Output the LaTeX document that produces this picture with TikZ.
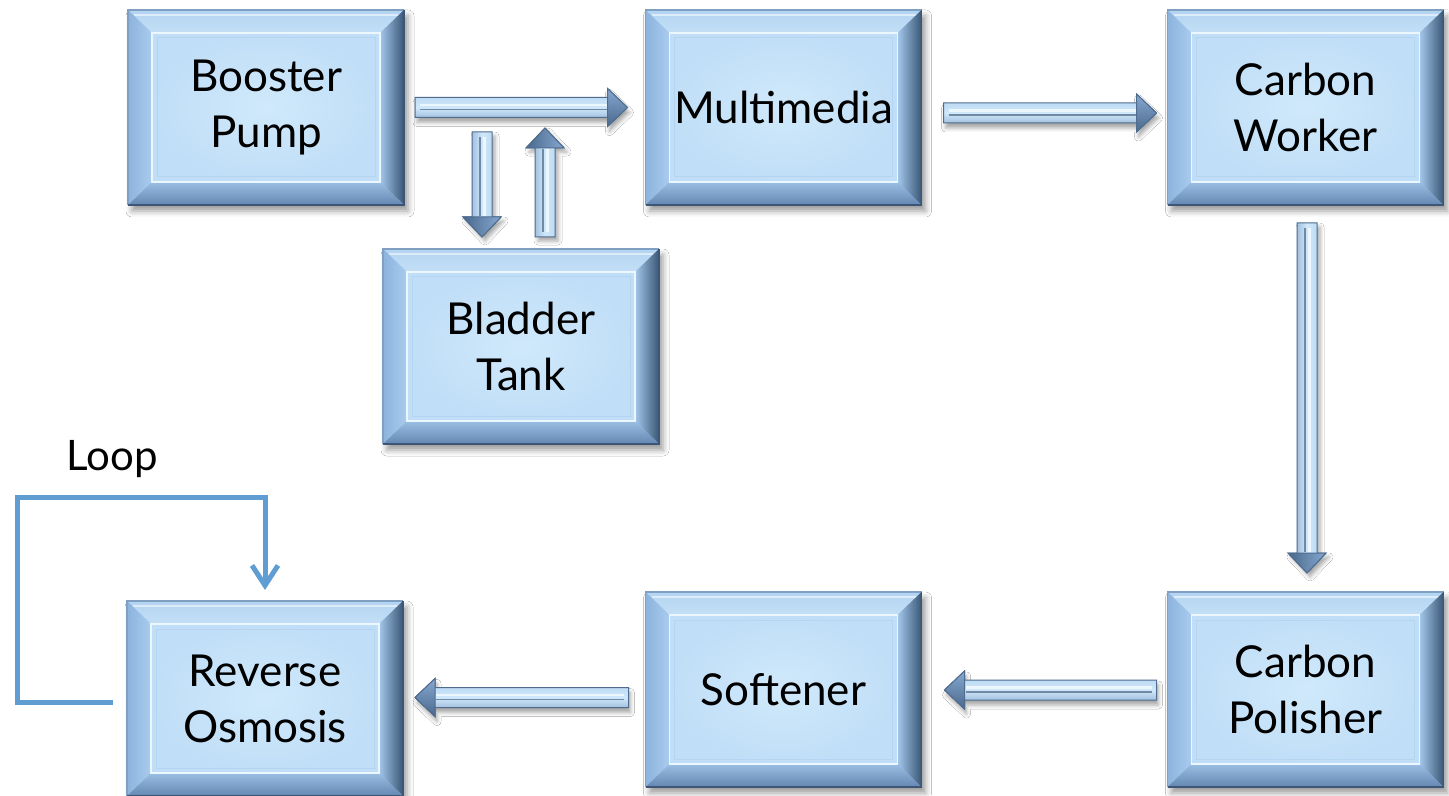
\documentclass[tikz,border=0pt]{standalone}
\usepackage{fontspec}
\setmainfont{Lato}
\usetikzlibrary{calc,shadows.blur,arrows.meta}
\definecolor{bvtopo}{HTML}{B3D4F1}
\definecolor{bvtopi}{HTML}{C3DFF6}
\definecolor{bvlefto}{HTML}{8DB3DD}
\definecolor{bvlefti}{HTML}{A9CCEE}
\definecolor{bvrighti}{HTML}{A3C7EB}
\definecolor{bvrightm}{HTML}{86ABD4}
\definecolor{bvrighto}{HTML}{3A5675}
\definecolor{bvboti}{HTML}{9ABEE3}
\definecolor{bvboto}{HTML}{6387B1}
\definecolor{face}{HTML}{C0DEF7}
\definecolor{facehi}{HTML}{D0E9FB}
\definecolor{edgec}{HTML}{3E5675}
\definecolor{edgelt}{HTML}{7F9FC3}
\definecolor{loopc}{HTML}{5F9DD3}
\definecolor{arrtop}{HTML}{ADD0EE}
\definecolor{arrmid}{HTML}{D0E8FA}
\definecolor{arrbot}{HTML}{7A9DC6}
\definecolor{arredge}{HTML}{4F6C8F}
\definecolor{headtop}{HTML}{86A9D0}
\definecolor{headbot}{HTML}{4A688C}
\tikzset{
  boxframe/.style={minimum width=138pt, minimum height=97.5pt, inner sep=0pt, outer sep=0pt,
    fill=bvlefti, draw=none,
    blur shadow={shadow xshift=2pt, shadow yshift=-3pt, shadow blur radius=3pt, shadow opacity=40}},
  boxtext/.style={align=center, font=\fontsize{22}{28}\selectfont, text=black, inner sep=0pt},
  harr/.style={top color=arrtop, bottom color=arrbot, middle color=arrmid, draw=arredge, line width=0.5pt,
    blur shadow={shadow xshift=1pt, shadow yshift=-2.5pt, shadow blur radius=2pt, shadow opacity=35}},
  varr/.style={left color=arrbot, right color=arrtop, middle color=arrmid, draw=arredge, line width=0.5pt,
    blur shadow={shadow xshift=1.5pt, shadow yshift=-2pt, shadow blur radius=2pt, shadow opacity=35}},
  hhead/.style={top color=headtop, bottom color=headbot, draw=arredge, line width=0.5pt},
  vhead/.style={left color=headbot, right color=headtop, draw=arredge, line width=0.5pt},
  loopline/.style={draw=loopc, line width=2.5pt, -{Straight Barb[length=10pt,width=13pt]}},
  looptext/.style={font=\fontsize{21}{25}\selectfont, text=black, inner sep=0pt}
}
\newcommand{\procbox}[3]{%
  \node[boxframe] (#1) at (#2) {};
  \path[top color=bvtopo, bottom color=bvtopi] (#1.north west) -- (#1.north east) -- ($(#1.north east)+(-12pt,-11.5pt)$) -- ($(#1.north west)+(12pt,-11.5pt)$) -- cycle;
  \draw[white!55!bvtopo, line width=1.2pt] ($(#1.north west)+(3pt,-2.5pt)$) -- ($(#1.north east)+(-3pt,-2.5pt)$);
  \path[left color=bvlefto, right color=bvlefti] (#1.north west) -- ($(#1.north west)+(12pt,-11.5pt)$) -- ($(#1.south west)+(12pt,11.5pt)$) -- (#1.south west) -- cycle;
  \path[left color=bvrighti, middle color=bvrightm, right color=bvrighto] (#1.north east) -- ($(#1.north east)+(-12pt,-11.5pt)$) -- ($(#1.south east)+(-12pt,11.5pt)$) -- (#1.south east) -- cycle;
  \path[top color=bvboti, bottom color=bvboto] (#1.south west) -- ($(#1.south west)+(12pt,11.5pt)$) -- ($(#1.south east)+(-12pt,11.5pt)$) -- (#1.south east) -- cycle;
  \draw[edgelt, line width=0.6pt] (#1.south west) -- (#1.north west) -- (#1.north east);
  \draw[edgec, line width=0.7pt] (#1.north east) -- (#1.south east) -- (#1.south west);
  \path[inner color=facehi, outer color=face, draw=white!60!facehi, line width=0.9pt] ($(#1.north west)+(12pt,-11.5pt)$) rectangle ($(#1.south east)+(-12pt,11.5pt)$);
  \draw[face!80!bvrightm, line width=0.5pt] ($(#1.north west)+(14.5pt,-14pt)$) rectangle ($(#1.south east)+(-14.5pt,14pt)$);
  \node[boxtext] (#1-t) at (#1.center) {#3};
}
\newcommand{\harrow}[2]{%
  \path[harr] let \p1=(#1), \p2=(#2), \n1={sign(\x2-\x1)} in
    ({\x1},{\y1+5pt}) -- ({\x2-(\n1)*10pt},{\y1+5pt}) -- ({\x2-(\n1)*10pt},{\y1+9.5pt}) -- ({\x2},{\y1})
    -- ({\x2-(\n1)*10pt},{\y1-9.5pt}) -- ({\x2-(\n1)*10pt},{\y1-5pt}) -- ({\x1},{\y1-5pt}) -- cycle;
  \path[hhead] let \p1=(#1), \p2=(#2), \n1={sign(\x2-\x1)} in
    ({\x2-(\n1)*10pt},{\y1+9.5pt}) -- ({\x2},{\y1}) -- ({\x2-(\n1)*10pt},{\y1-9.5pt}) -- cycle;
  \draw[white!60!arrmid, line width=1.2pt] let \p1=(#1), \p2=(#2), \n1={sign(\x2-\x1)} in
    ({\x1+(\n1)*2.5pt},{\y1+1.2pt}) -- ({\x2-(\n1)*10.5pt},{\y1+1.2pt});
  \draw[arredge!80, line width=0.6pt] let \p1=(#1), \p2=(#2), \n1={sign(\x2-\x1)} in
    ({\x1+(\n1)*2.5pt},{\y1-1pt}) -- ({\x2-(\n1)*10.5pt},{\y1-1pt});
}
\newcommand{\varrow}[2]{%
  \path[varr] let \p1=(#1), \p2=(#2), \n1={sign(\y2-\y1)} in
    ({\x1+5pt},{\y1}) -- ({\x1+5pt},{\y2-(\n1)*10pt}) -- ({\x1+9.5pt},{\y2-(\n1)*10pt}) -- ({\x1},{\y2})
    -- ({\x1-9.5pt},{\y2-(\n1)*10pt}) -- ({\x1-5pt},{\y2-(\n1)*10pt}) -- ({\x1-5pt},{\y1}) -- cycle;
  \path[vhead] let \p1=(#1), \p2=(#2), \n1={sign(\y2-\y1)} in
    ({\x1+9.5pt},{\y2-(\n1)*10pt}) -- ({\x1},{\y2}) -- ({\x1-9.5pt},{\y2-(\n1)*10pt}) -- cycle;
  \draw[white!60!arrmid, line width=1.2pt] let \p1=(#1), \p2=(#2), \n1={sign(\y2-\y1)} in
    ({\x1+1.2pt},{\y1+(\n1)*2.5pt}) -- ({\x1+1.2pt},{\y2-(\n1)*10.5pt});
  \draw[arredge!80, line width=0.6pt] let \p1=(#1), \p2=(#2), \n1={sign(\y2-\y1)} in
    ({\x1-1pt},{\y1+(\n1)*2.5pt}) -- ({\x1-1pt},{\y2-(\n1)*10.5pt});
}
\begin{document}
\begin{tikzpicture}[x=0.5pt,y=-0.5pt]
\useasboundingbox[fill=white] (0,0) rectangle (1449,796);
% boxes
\procbox{bp}{266,107.5}{Booster\\Pump}
\procbox{mm}{783.5,107.5}{Multimedia}
\procbox{cw}{1305.5,107.5}{Carbon\\Worker}
\procbox{bt}{521,346.5}{Bladder\\Tank}
\procbox{ro}{265,698.5}{Reverse\\Osmosis}
\procbox{sf}{783.5,689.5}{Softener}
\procbox{cp}{1305.5,689.5}{Carbon\\Polisher}
% block arrows
\coordinate (a1s) at ($(bp.east)+(11,0)$);
\coordinate (a1e) at ($(mm.west)+(-18,0)$);
\harrow{a1s}{a1e}
\coordinate (a2s) at ($(mm.east)+(22,5.5)$);
\coordinate (a2e) at ($(cw.west)+(-11,5.5)$);
\harrow{a2s}{a2e}
\coordinate (a3s) at ($(cw.south)+(1.5,18)$);
\coordinate (a3e) at ($(cp.north)+(1.5,-19)$);
\varrow{a3s}{a3e}
\coordinate (a4s) at ($(cp.west)+(-11,0.5)$);
\coordinate (a4e) at ($(sf.east)+(23,0.5)$);
\harrow{a4s}{a4e}
\coordinate (a5s) at ($(sf.west)+(-17,8)$);
\coordinate (a5e) at ($(ro.east)+(12,-1)$);
\harrow{a5s}{a5e}
\coordinate (a6s) at ($(bp.east)+(78,24.5)$);
\coordinate (a6e) at ($(bt.north)+(-39,-12)$);
\varrow{a6s}{a6e}
\coordinate (a7s) at ($(bt.north)+(24,-12)$);
\coordinate (a7e) at ($(bp.east)+(141,20.5)$);
\varrow{a7s}{a7e}
% loop
\node[looptext, anchor=base] (lp) at (112,470) {Loop};
\coordinate (ls) at ($(ro.west)+(-14,3.5)$);
\coordinate (lc) at ($(ro.north west)+(-110,-104)$);
\coordinate (le) at ($(ro.north)+(0,-11)$);
\draw[loopline] (ls) -| (lc) -| (le);
\end{tikzpicture}
\end{document}
